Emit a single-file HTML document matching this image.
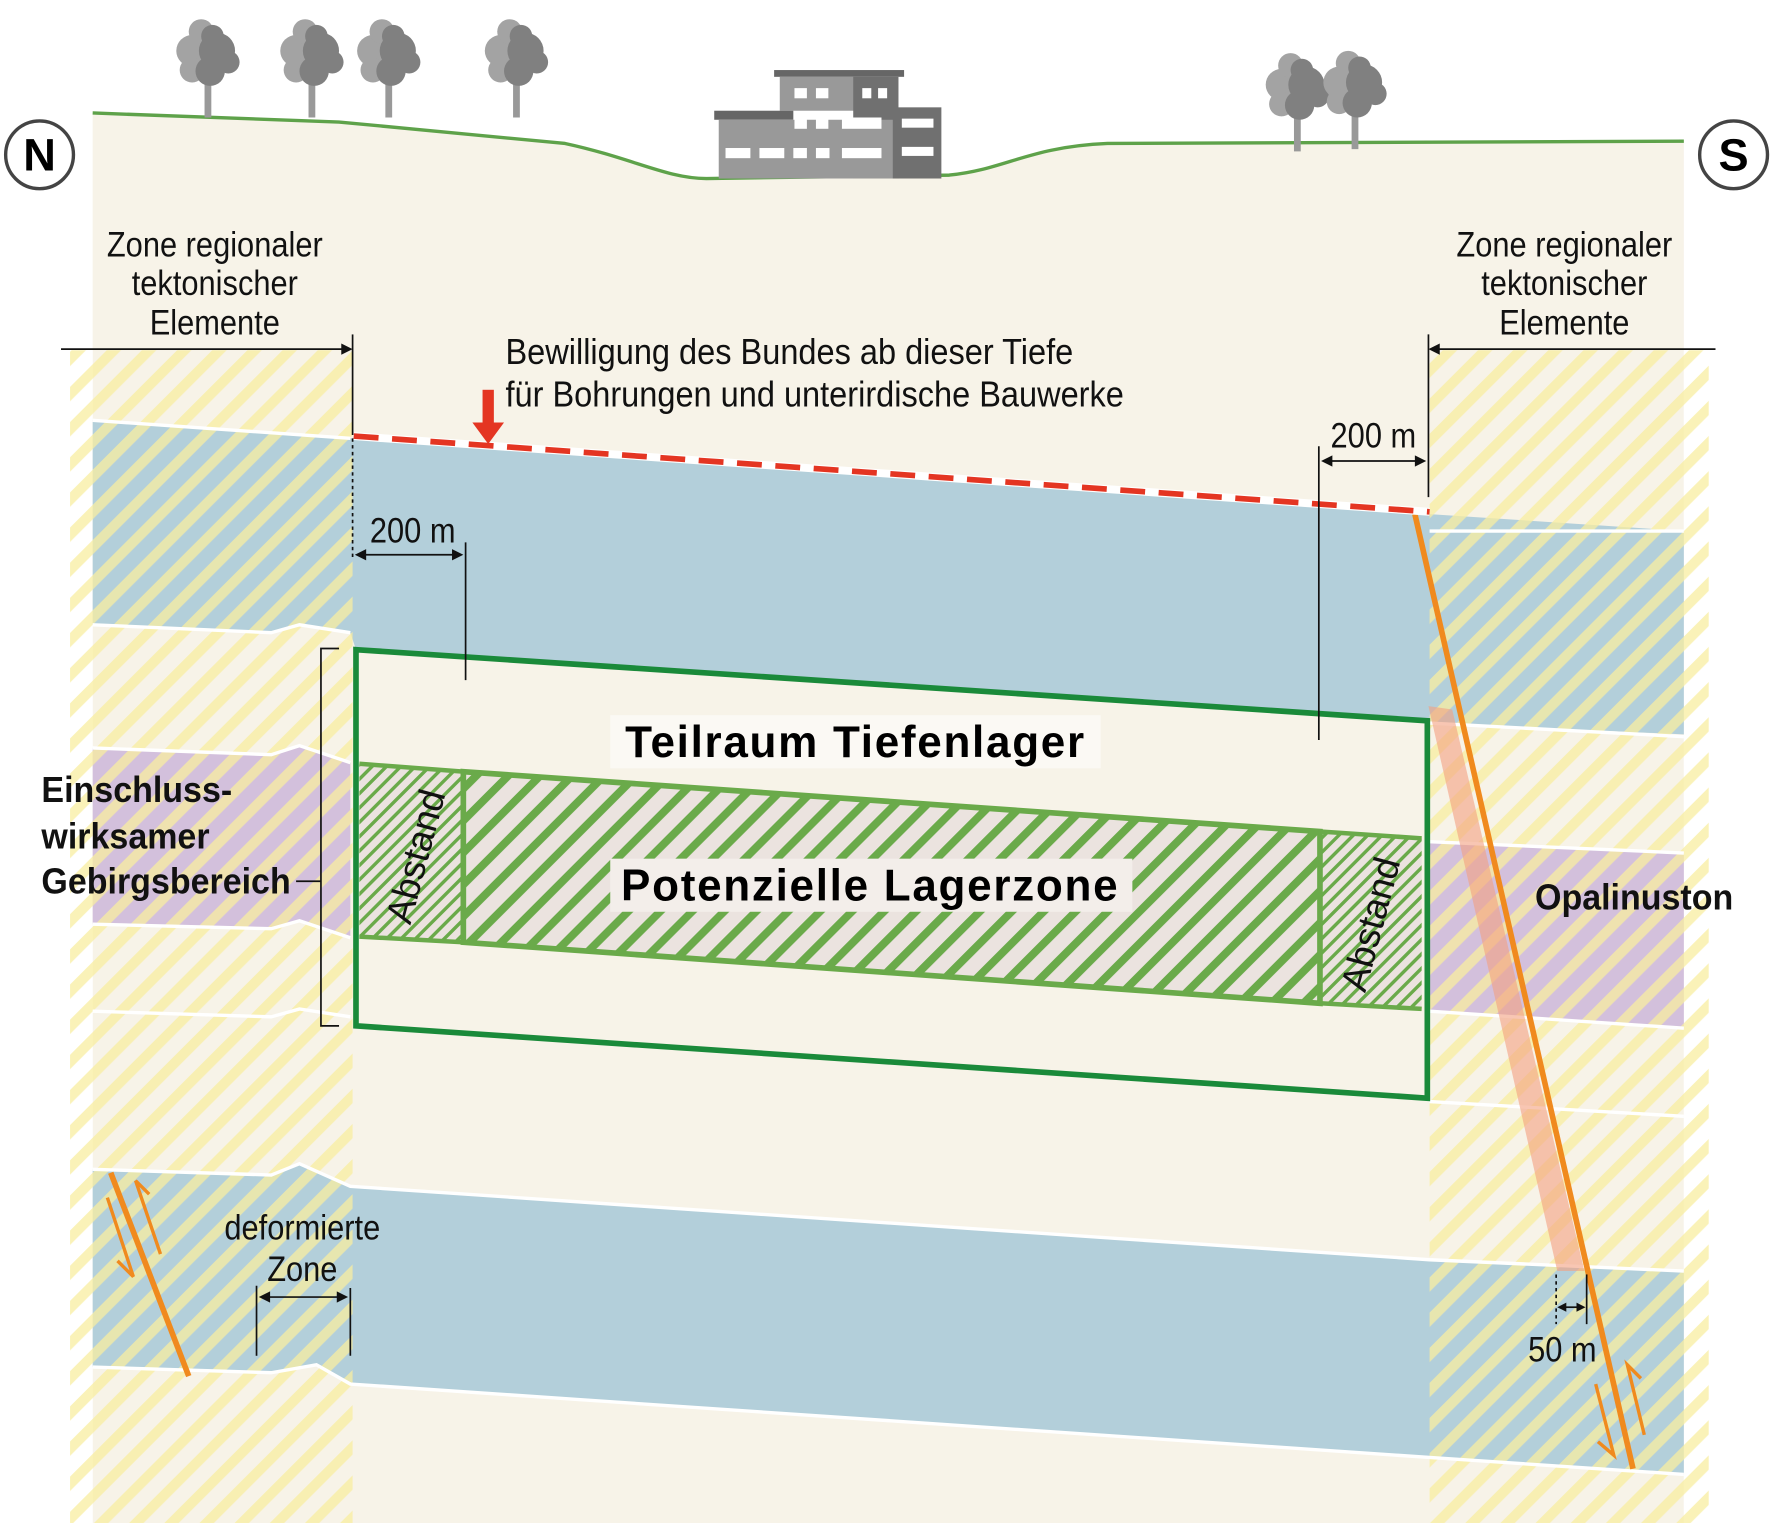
<!DOCTYPE html>
<html><head><meta charset="utf-8"><style>
html,body{margin:0;padding:0;background:#fff}
svg{display:block}
text{font-family:"Liberation Sans",sans-serif}
.n{font-family:"Liberation Sans",sans-serif;fill:#111}
.b{font-weight:bold}
</style></head><body>
<svg width="1772" height="1523" viewBox="0 0 1568 1348" preserveAspectRatio="none" xmlns="http://www.w3.org/2000/svg">
<defs>
<pattern id="yh" patternUnits="userSpaceOnUse" width="22" height="22" patternTransform="rotate(45)">
<rect width="22" height="22" fill="none"/><rect width="9" height="22" fill="#f8eda0" opacity="0.75"/>
</pattern>
<pattern id="gh" patternUnits="userSpaceOnUse" width="20" height="20" patternTransform="rotate(45)">
<rect width="20" height="20" fill="#ebe3df"/><rect width="7" height="20" fill="#6aaa4a"/>
</pattern>
<pattern id="gh2" patternUnits="userSpaceOnUse" width="9" height="9" patternTransform="rotate(45)">
<rect width="9" height="9" fill="#ebe3df"/><rect width="3" height="9" fill="#6aaa4a"/>
</pattern>
</defs>
<rect width="1568" height="1348" fill="#fff"/>
<path d="M82,100 L300,108 L500,127 C560,140 590,158 625,158 L840,155 C890,150 910,130 980,127 L1490,125 L1490,1348 L82,1348 Z" fill="#f7f3e8"/>
<path d="M82,100 L300,108 L500,127 C560,140 590,158 625,158 L840,155 C890,150 910,130 980,127 L1490,125" fill="none" stroke="#5ea24a" stroke-width="3"/>
<rect x="62" y="310" width="20" height="1038" fill="#fff"/>
<rect x="1490" y="310" width="22" height="1038" fill="#fff"/>
<polygon points="82,372 310,388 1265,455 1490,470 1490,650 1265,640 1265,637 315,575 310,560 265,553 240,560 82,553" fill="#b3cfda"/>
<polygon points="82,1035 240,1040 265,1030 310,1050 1265,1115 1490,1125 1490,1305 1265,1290 310,1225 280,1208 240,1215 82,1210" fill="#b3cfda"/>
<polygon points="82,662 240,668 265,660 310,675 310,830 265,815 240,822 82,818" fill="#d3c0dc"/>
<polygon points="1265,745 1490,755 1490,910 1265,895" fill="#d3c0dc"/>
<rect x="62" y="310" width="250" height="1038" fill="url(#yh)"/>
<rect x="1265" y="310" width="247" height="1038" fill="url(#yh)"/>
<g stroke="#fff" stroke-width="3" fill="none">
<polyline points="82,372 310,388"/>
<polyline points="82,553 240,560 265,553 310,560"/>
<polyline points="82,662 240,668 265,660 310,675"/>
<polyline points="82,818 240,822 265,815 310,830"/>
<polyline points="82,895 240,900 265,893 310,900"/>
<polyline points="82,1035 240,1040 265,1030 310,1050 1265,1115 1490,1125"/>
<polyline points="82,1210 240,1215 280,1208 310,1225 1265,1290 1490,1305"/>
<polyline points="1265,470 1490,470"/>
<polyline points="1265,640 1490,652"/>
<polyline points="1265,745 1490,755"/>
<polyline points="1265,895 1490,910"/>
<polyline points="1265,975 1490,988"/>
</g>
<polygon points="315,575 1263,638 1263,972 315,908" fill="#f7f3e8"/>
<polygon points="318,676 410,683 410,834 318,829" fill="url(#gh2)"/>
<polygon points="1168,736 1258,742 1258,893 1168,888" fill="url(#gh2)"/>
<polygon points="410,683 1168,736 1168,888 410,834" fill="url(#gh)" stroke="#6aaa4a" stroke-width="5"/>
<polyline points="318,676 410,683" stroke="#6aaa4a" stroke-width="4"/>
<polyline points="318,829 410,834" stroke="#6aaa4a" stroke-width="4"/>
<polyline points="1168,736 1258,742" stroke="#6aaa4a" stroke-width="4"/>
<polyline points="1168,888 1258,893" stroke="#6aaa4a" stroke-width="4"/>
<polygon points="315,575 1263,638 1263,972 315,908" fill="none" stroke="#1a8a3a" stroke-width="5"/>
<polygon points="1264,625 1285,628 1402,1125 1378,1125" fill="#f4a080" opacity="0.6"/>
<line x1="1252" y1="455" x2="1445" y2="1300" stroke="#f08a1e" stroke-width="5"/>
<g stroke="#f08a1e" stroke-width="3" fill="none">
<polyline points="1412,1225 1428,1288 1414,1276"/>
<polyline points="1455,1270 1440,1208 1452,1220"/>
<polyline points="95,1060 118,1130 104,1116"/>
<polyline points="142,1110 120,1045 132,1057"/>
</g>
<line x1="98" y1="1038" x2="167" y2="1218" stroke="#f08a1e" stroke-width="5"/>
<line x1="313" y1="386" x2="1265" y2="453" stroke="#fff" stroke-width="7"/>
<line x1="313" y1="386" x2="1265" y2="453" stroke="#e43522" stroke-width="5" stroke-dasharray="22,12"/>
<rect x="427" y="345" width="10" height="32" fill="#e43522"/>
<polygon points="418,374 446,374 432,393" fill="#e43522"/>
<g stroke="#111" stroke-width="1.5" fill="none">
<line x1="54" y1="309" x2="305" y2="309"/><line x1="312" y1="296" x2="312" y2="385"/>
<line x1="312" y1="388" x2="312" y2="495" stroke-dasharray="3,3"/>
<line x1="1272" y1="309" x2="1518" y2="309"/><line x1="1264" y1="296" x2="1264" y2="440"/>
<line x1="320" y1="491" x2="404" y2="491"/><line x1="412" y1="480" x2="412" y2="602"/>
<line x1="1175" y1="408" x2="1256" y2="408"/><line x1="1167" y1="395" x2="1167" y2="655"/>
<polyline points="300,574 284,574 284,908 300,908"/><line x1="262" y1="780" x2="284" y2="780"/>
<line x1="235" y1="1148" x2="302" y2="1148"/><line x1="227" y1="1138" x2="227" y2="1200"/><line x1="310" y1="1140" x2="310" y2="1200"/>
<line x1="1384" y1="1157" x2="1398" y2="1157"/><line x1="1404" y1="1128" x2="1404" y2="1172"/>
<line x1="1377" y1="1128" x2="1377" y2="1172" stroke-dasharray="3,3"/>
</g>
<g fill="#111">
<polygon points="312,309 302,304 302,314"/><polygon points="1264,309 1274,304 1274,314"/>
<polygon points="314,491 324,486 324,496"/><polygon points="410,491 400,486 400,496"/>
<polygon points="1169,408 1179,403 1179,413"/><polygon points="1262,408 1252,403 1252,413"/>
<polygon points="229,1148 239,1143 239,1153"/><polygon points="308,1148 298,1143 298,1153"/>
<polygon points="1378,1157 1386,1153 1386,1161"/><polygon points="1403,1157 1395,1153 1395,1161"/>
</g>
<circle cx="35" cy="137" r="30" fill="#fff" stroke="#444" stroke-width="3"/>
<text x="35" y="151" text-anchor="middle" font-size="40" font-weight="bold">N</text>
<circle cx="1534" cy="137" r="30" fill="#fff" stroke="#444" stroke-width="3"/>
<text x="1534" y="151" text-anchor="middle" font-size="40" font-weight="bold">S</text>
<g id="tree">
<rect x="181" y="60" width="6" height="44" fill="#999"/>
<circle cx="170" cy="45" r="14" fill="#a3a3a3"/><circle cx="178" cy="28" r="11" fill="#a3a3a3"/><circle cx="170" cy="62" r="11" fill="#a3a3a3"/>
<circle cx="192" cy="45" r="16" fill="#808080"/><circle cx="186" cy="63" r="13" fill="#808080"/><circle cx="188" cy="32" r="10" fill="#808080"/><circle cx="202" cy="55" r="10" fill="#808080"/>
</g>
<use href="#tree" transform="translate(92,0)"/>
<use href="#tree" transform="translate(160,0)"/>
<use href="#tree" transform="translate(273,0)"/>
<use href="#tree" transform="translate(964,30)"/>
<use href="#tree" transform="translate(1015,28)"/>
<rect x="685" y="62" width="115" height="6" fill="#666"/>
<rect x="690" y="68" width="105" height="30" fill="#999"/>
<rect x="755" y="68" width="40" height="90" fill="#707070"/>
<rect x="632" y="98" width="70" height="8" fill="#666"/>
<rect x="636" y="106" width="160" height="52" fill="#999"/>
<rect x="790" y="95" width="43" height="63" fill="#707070"/>
<g fill="#fff"><rect x="703" y="78" width="11" height="9"/><rect x="722" y="78" width="11" height="9"/><rect x="763" y="78" width="8" height="9"/><rect x="777" y="78" width="8" height="9"/>
<rect x="703" y="104" width="11" height="10"/><rect x="722" y="104" width="11" height="10"/><rect x="745" y="104" width="35" height="10"/><rect x="798" y="105" width="28" height="8"/>
<rect x="642" y="131" width="22" height="9"/><rect x="672" y="131" width="22" height="9"/><rect x="702" y="131" width="12" height="9"/><rect x="722" y="131" width="12" height="9"/><rect x="745" y="131" width="35" height="9"/><rect x="798" y="130" width="28" height="8"/></g>
<g class="n" text-anchor="middle" style="font-size:31px" transform="scale(0.88,1)">
<text x="216" y="227">Zone regionaler</text><text x="216" y="261">tektonischer</text><text x="216" y="296">Elemente</text>
<text x="1573" y="227">Zone regionaler</text><text x="1573" y="261">tektonischer</text><text x="1573" y="296">Elemente</text>
<text x="304" y="1097">deformierte</text><text x="304" y="1134">Zone</text>
<text x="1571" y="1205">50 m</text>
<text x="415" y="480">200 m</text><text x="1381" y="396">200 m</text>
</g>
<g class="n" style="font-size:32px" transform="scale(0.9,1)">
<text x="497" y="322">Bewilligung des Bundes ab dieser Tiefe</text>
<text x="497" y="360">für Bohrungen und unterirdische Bauwerke</text>
</g>
<g class="n b" style="font-size:32px" transform="scale(0.94,1)">
<text x="39" y="710">Einschluss-</text><text x="39" y="751">wirksamer</text><text x="39" y="791">Gebirgsbereich</text>
<text x="1445" y="805">Opalinuston</text>
</g>
<rect x="540" y="633" width="434" height="47" fill="#fbf9f4"/>
<text x="757" y="670" text-anchor="middle" font-size="39" font-weight="bold" letter-spacing="1.5">Teilraum Tiefenlager</text>
<rect x="540" y="760" width="462" height="47" fill="#f3eeea"/>
<text x="770" y="797" text-anchor="middle" font-size="39" font-weight="bold" letter-spacing="1.5">Potenzielle Lagerzone</text>
<text transform="translate(368,758) rotate(-75)" text-anchor="middle" font-size="33" fill="#111" dy="11">Abstand</text>
<text transform="translate(1213,818) rotate(-75)" text-anchor="middle" font-size="33" fill="#111" dy="11">Abstand</text>
</svg>
</body></html>
